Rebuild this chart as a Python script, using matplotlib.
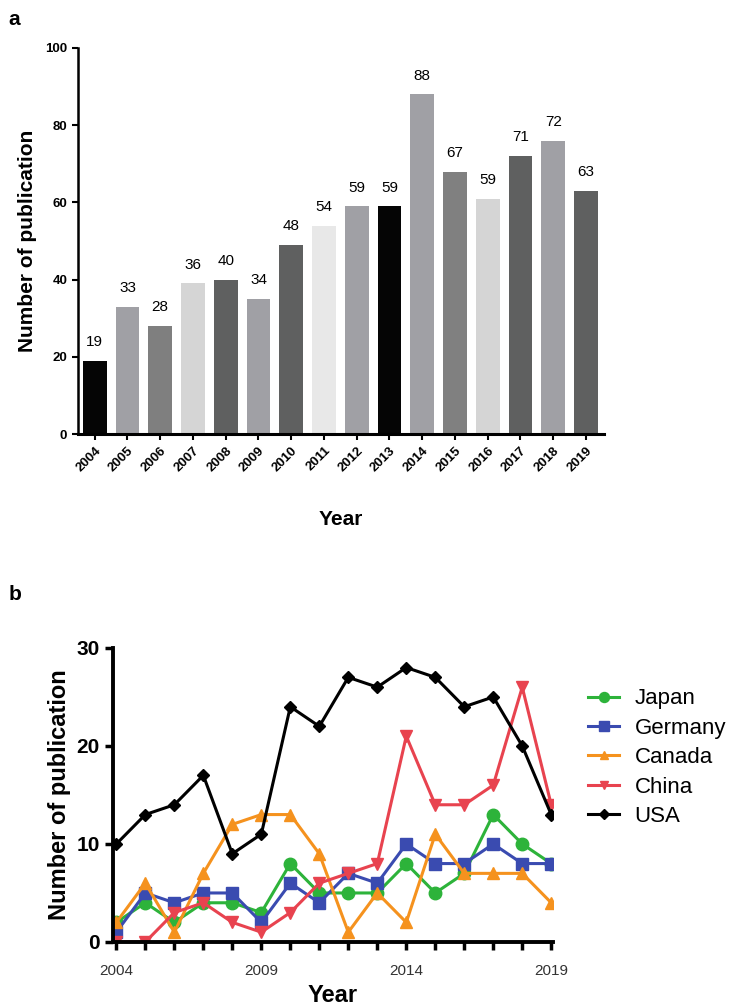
import numpy as np
import matplotlib
matplotlib.use("Agg")
import matplotlib.pyplot as plt

plt.rcParams['font.family'] = ['Liberation Sans', 'DejaVu Sans']

# panel a data
years = [2004, 2005, 2006, 2007, 2008, 2009, 2010, 2011,
         2012, 2013, 2014, 2015, 2016, 2017, 2018, 2019]
bar_heights = [19, 33, 28, 39, 40, 35, 49, 54, 59, 59, 88, 68, 61, 72, 76, 63]
bar_labels = [19, 33, 28, 36, 40, 34, 48, 54, 59, 59, 88, 67, 59, 71, 72, 63]
bar_colors = ['#050505', '#a0a0a5', '#7f7f7f', '#d5d5d5', '#5f6060', '#a0a0a5',
              '#5f6060', '#e8e8e8', '#a0a0a5', '#050505', '#a0a0a5', '#808080',
              '#d5d5d5', '#5f6060', '#a0a0a5', '#5f6060']

# panel b data
japan = [2, 4, 2, 4, 4, 3, 8, 5, 5, 5, 8, 5, 7, 13, 10, 8]
germany = [1, 5, 4, 5, 5, 2, 6, 4, 7, 6, 10, 8, 8, 10, 8, 8]
canada = [2, 6, 1, 7, 12, 13, 13, 9, 1, 5, 2, 11, 7, 7, 7, 4]
china = [0, 0, 3, 4, 2, 1, 3, 6, 7, 8, 21, 14, 14, 16, 26, 14]
usa = [10, 13, 14, 17, 9, 11, 24, 22, 27, 26, 28, 27, 24, 25, 20, 13]

fig = plt.figure(figsize=(7.33, 10.08), dpi=100)

# ---- panel a
ax1 = fig.add_axes([0.106, 0.5694, 0.718, 0.383])
x = np.arange(len(years))
ax1.bar(x, bar_heights, width=0.73, color=bar_colors)
for i in range(len(years)):
    ax1.text(x[i], bar_heights[i] + 3, str(bar_labels[i]), ha='center', va='bottom', fontsize=11)
ax1.set_xlim(-0.52, 15.55)
ax1.set_ylim(0, 100)
ax1.set_yticks([0, 20, 40, 60, 80, 100])
ax1.set_xticks(x)
ax1.set_xticklabels([str(y) for y in years], rotation=45, ha='right', rotation_mode='anchor',
                    fontsize=9.5, fontweight='bold')
for lab in ax1.get_yticklabels():
    lab.set_fontweight('bold')
    lab.set_fontsize(9.5)
ax1.spines['top'].set_visible(False)
ax1.spines['right'].set_visible(False)
ax1.spines['left'].set_linewidth(1.8)
ax1.spines['bottom'].set_linewidth(2.2)
ax1.tick_params(width=1.5, length=4)
ax1.set_ylabel('Number of publication', fontsize=15, fontweight='bold', labelpad=6)
ax1.set_xlabel('Year', fontsize=15, fontweight='bold', labelpad=26)

# ---- panel b
ax2 = fig.add_axes([0.154, 0.0655, 0.600, 0.2917])
ax2.plot(years, japan, color='#2db33a', marker='o', markersize=9, lw=2.2, label='Japan')
ax2.plot(years, germany, color='#3a4bb0', marker='s', markersize=9, lw=2.2, label='Germany')
ax2.plot(years, canada, color='#f5921e', marker='^', markersize=8, lw=2.2, label='Canada')
ax2.plot(years, china, color='#e8434f', marker='v', markersize=8, lw=2.2, label='China')
ax2.plot(years, usa, color='black', marker='D', markersize=6, lw=2.2, label='USA')
ax2.set_xlim(2003.88, 2019.05)
ax2.set_ylim(0, 30)
ax2.set_yticks([0, 10, 20, 30])
ax2.set_xticks(years, minor=True)
ax2.set_xticks([2004, 2009, 2014, 2019])
for lab in ax2.get_yticklabels():
    lab.set_fontweight('bold')
    lab.set_fontsize(15)
for lab in ax2.get_xticklabels():
    lab.set_fontsize(11)
    lab.set_color('#333333')
ax2.spines['top'].set_visible(False)
ax2.spines['right'].set_visible(False)
ax2.spines['left'].set_linewidth(2.8)
ax2.spines['bottom'].set_linewidth(2.8)
ax2.tick_params(axis='both', which='both', width=2.5, length=6)
ax2.tick_params(axis='x', pad=10)
ax2.set_ylabel('Number of publication', fontsize=17, fontweight='bold', labelpad=4)
ax2.set_xlabel('Year', fontsize=17, fontweight='bold', labelpad=4)
ax2.legend(loc='upper left', bbox_to_anchor=(0.775, 0.337), bbox_transform=fig.transFigure,
           frameon=False, fontsize=16, handlelength=1.4, handletextpad=0.7,
           labelspacing=0.38, markerscale=0.8)

fig.text(0.012, 0.975, 'a', fontsize=15, fontweight='bold')
fig.text(0.012, 0.405, 'b', fontsize=15, fontweight='bold')

fig.savefig('out.png', dpi=100)
